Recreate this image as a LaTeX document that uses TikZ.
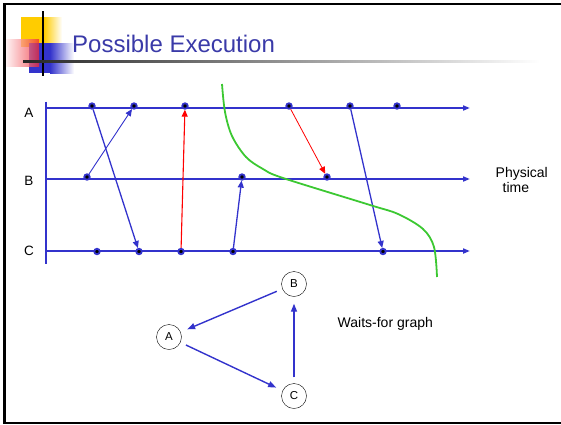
\documentclass[tikz,border=0pt]{standalone}
\usepackage{fontspec}
\setmainfont{Liberation Sans}
\usetikzlibrary{arrows.meta, positioning}
\definecolor{lineblue}  {RGB}{51,51,204}
\definecolor{titleblue} {RGB}{58,58,168}
\definecolor{cutgreen}  {RGB}{60,200,50}
\definecolor{decoyellow}{RGB}{255,204,0}
\definecolor{decored}   {RGB}{240,40,50}

\begin{document}
\begin{tikzpicture}[x=1pt, y=-1pt,
  evt/.style={circle, fill=black, draw=lineblue, line width=1.8pt,
    inner sep=0pt, minimum size=5.5pt},
  tl/.style={lineblue, line width=2pt, -{Triangle[length=7pt,width=5pt]}},
  msg/.style={lineblue, line width=1.3pt, -{Triangle[length=7pt,width=6pt]}},
  redmsg/.style={red, line width=1.1pt, -{Triangle[length=7pt,width=6pt]}},
  proc/.style={font=\fontsize{13.5}{15}\selectfont},
  gnode/.style={circle, draw, thin, minimum size=25pt, inner sep=0pt,
    font=\fontsize{11.5}{13}\selectfont},
  garr/.style={lineblue, line width=1.4pt, shorten <=6pt, shorten >=7pt,
    -{Triangle[length=8pt,width=6pt]}},
  note/.style={font=\fontsize{14}{15}\selectfont, align=left, inner sep=0pt}
]
  \useasboundingbox (0,0) rectangle (561,424);
  \clip (0,0) rectangle (561,424);
  % Slide frame and title decoration
  \draw[line width=2.5pt] (4.5,4) rectangle (566,422.8);
  \fill[decoyellow] (21,17) rectangle (44,47);
  \shade[left color=decoyellow, right color=white] (44,17) rectangle (62,47);
  \fill[lineblue] (29,43) rectangle (50,73);
  \shade[left color=lineblue, right color=white] (50,43) rectangle (74,73);
  \shade[left color=decored!8, right color=decored, opacity=0.75]
    (6,39) rectangle (39,66);
  \draw[line width=2pt] (43.3,11) -- (43.3,76);
  \shade[left color=black!85, right color=white] (23,60) rectangle (540,62);
  \node[anchor=base west, inner sep=0pt, text=titleblue,
    font=\fontsize{24}{28}\selectfont] (title) at (72,52) {Possible Execution};

  % Process time lines
  \draw[lineblue, line width=2pt] (45.7,101.5) -- (45.7,264);
  \coordinate (A0) at (46,108);  \coordinate (A1) at (470,108);
  \coordinate (B0) at (46,179);  \coordinate (B1) at (470,179);
  \coordinate (C0) at (46,251);  \coordinate (C1) at (470,251);
  \draw[tl] (A0) -- (A1);
  \draw[tl] (B0) -- (B1);
  \draw[tl] (C0) -- (C1);
  \node[proc] (lA) at (29,113) {A};
  \node[proc] (lB) at (29,181) {B};
  \node[proc] (lC) at (29,251) {C};

  % Events
  \foreach \n/\x in {1/92,2/134,3/185,4/289,5/350,6/397}
    \node[evt] (a\n) at (\x,106) {};
  \foreach \n/\x in {1/87,2/242,3/327}
    \node[evt] (b\n) at (\x,177) {};
  \foreach \n/\x in {1/97,2/139,3/181,4/233,5/383}
    \node[evt] (c\n) at (\x,251.5) {};

  % Messages
  \draw[msg] (a1) -- (c2);
  \draw[msg, line width=0.9pt] (b1) -- (a2);
  \draw[redmsg] (c3) -- (a3);
  \draw[msg] (c4) -- (b2);
  \draw[redmsg, line width=0.8pt] (a4) -- (b3);
  \draw[msg] (a5) -- (c5);

  % Cut
  \draw[cutgreen, line width=1.8pt] plot[smooth, tension=0.55] coordinates {
    (222,84) (225,112) (232,136) (246,157) (263,169) (283,178)
    (370,205) (398,214) (423,229) (434,247) (437,277)};

  \node[note, anchor=north west] (phys) at (495.5,167)
    {Physical\\\hspace*{7pt}time};

  % Waits-for graph
  \node[gnode] (gB) at (294,284) {B};
  \node[gnode] (gA) at (169,337) {A};
  \node[gnode] (gC) at (294,396) {C};
  \draw[garr] (gB) -- (gA);
  \draw[garr] (gA) -- (gC);
  \draw[garr] (gC) -- (gB);
  \node[note, anchor=base west] (wfg) at (337.5,327) {Waits-for graph};
\end{tikzpicture}
\end{document}
